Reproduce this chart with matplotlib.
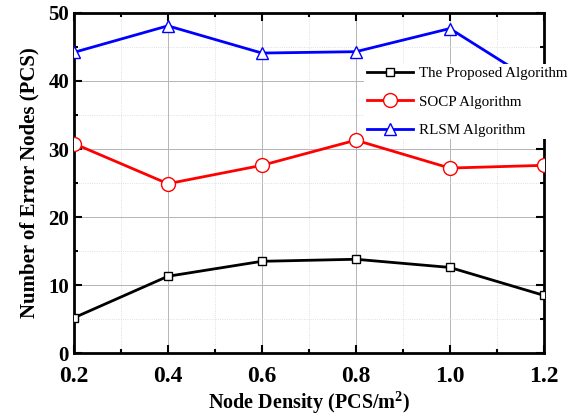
import matplotlib.pyplot as plt
from matplotlib.ticker import MultipleLocator

density = [0.2, 0.4, 0.6, 0.8, 1.0, 1.2]
proposed = [5.2, 11.3, 13.5, 13.8, 12.6, 8.5]
socp = [30.8, 24.9, 27.6, 31.3, 27.2, 27.6]
rlsm = [44.2, 48.1, 44.1, 44.3, 47.7, 39.0]

plt.rcParams['font.family'] = 'Liberation Serif'
plt.rcParams['mathtext.fontset'] = 'custom'
plt.rcParams['mathtext.rm'] = 'Liberation Serif'
plt.rcParams['mathtext.bf'] = 'Liberation Serif:bold'

fig = plt.figure(figsize=(5.73, 4.16), dpi=100)
ax = fig.add_axes([0.129, 0.151, 0.82, 0.818])

ax.plot(density, proposed, color='black', lw=2, marker='s', ms=6,
        mfc='white', mec='black', mew=1, label='The Proposed Algorithm', zorder=3)
ax.plot(density, socp, color='red', lw=2, marker='o', ms=10,
        mfc='white', mec='red', mew=1, label='SOCP Algorithm', zorder=3)
ax.plot(density, rlsm, color='blue', lw=2, marker='^', ms=8,
        mfc='white', mec='blue', mew=1, label='RLSM Algorithm', zorder=3)

ax.set_xlim(0.2, 1.2)
ax.set_ylim(0, 50)
ax.xaxis.set_minor_locator(MultipleLocator(0.1))
ax.yaxis.set_major_locator(MultipleLocator(10))
ax.yaxis.set_minor_locator(MultipleLocator(5))
ax.set_xticks(density)
ax.set_xticklabels(['0.2', '0.4', '0.6', '0.8', '1.0', '1.2'])

ax.grid(which='major', color='#b5b5b5', lw=0.7)
ax.grid(which='minor', color='#d5d5d5', lw=0.6, ls=':')
ax.set_axisbelow(True)

ax.tick_params(which='both', direction='in', top=True, right=True, width=1.5)
ax.tick_params(which='major', length=6)
ax.tick_params(which='minor', length=3)
ax.tick_params(axis='x', labelsize=17, pad=9)
ax.tick_params(axis='y', labelsize=15)
for s in ax.spines.values():
    s.set_linewidth(2)
for lab in ax.get_xticklabels() + ax.get_yticklabels():
    lab.set_fontweight('bold')

ax.set_xlabel('Node Density (PCS/m$^{\\mathbf{2}}$)', fontsize=14.5, fontweight='bold', labelpad=2)
ax.set_ylabel('Number of Error Nodes (PCS)', fontsize=15, fontweight='bold', labelpad=6)

leg = fig.legend(loc='upper left', bbox_to_anchor=(0.636, 0.845), fontsize=10.8,
                 frameon=True, framealpha=1, edgecolor='none', fancybox=False,
                 handlelength=3.1, labelspacing=1.0, borderaxespad=0,
                 borderpad=0.15, handletextpad=0.4)
leg.set_zorder(5)

plt.savefig('out.png', dpi=100)
